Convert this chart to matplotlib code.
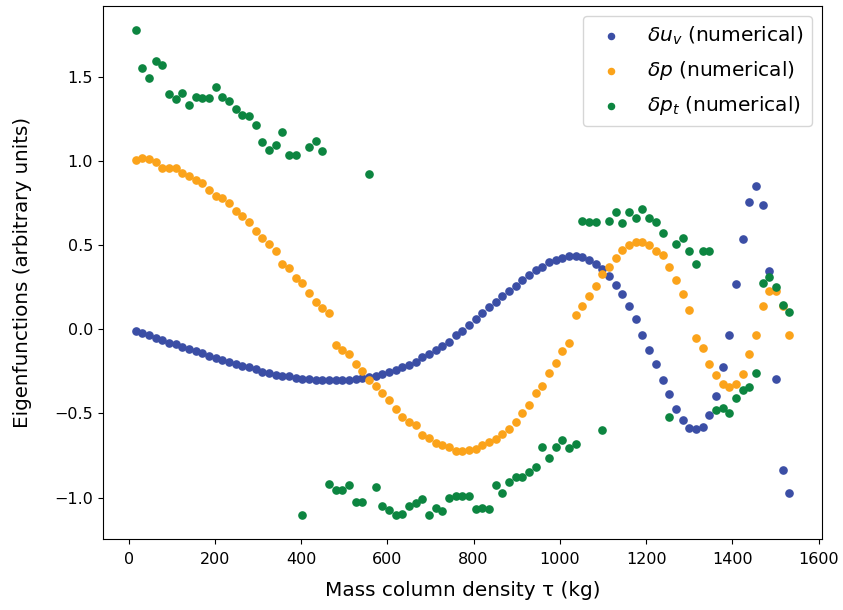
import numpy as np
import matplotlib
matplotlib.use("Agg")
from matplotlib import pyplot as plt

# mass column density grid (kg), 99 evenly spaced samples
tau = np.linspace(16, 1532, 99)

du_v = [-0.010, -0.025, -0.035, -0.052, -0.063, -0.079, -0.088, -0.104, -0.118, -0.132,
        -0.142, -0.158, -0.168, -0.182, -0.193, -0.204, -0.217, -0.227, -0.237, -0.251,
        -0.261, -0.271, -0.277, -0.277, -0.287, -0.295, -0.296, -0.302, -0.302, -0.302,
        -0.302, -0.302, -0.302, -0.296, -0.290, -0.283, -0.277, -0.267, -0.251, -0.243,
        -0.227, -0.211, -0.192, -0.164, -0.148, -0.122, -0.098, -0.073, -0.035, -0.009,
        0.027, 0.064, 0.094, 0.130, 0.165, 0.199, 0.225, 0.259, 0.295, 0.323,
        0.352, 0.372, 0.398, 0.414, 0.424, 0.433, 0.433, 0.427, 0.414, 0.388,
        0.358, 0.318, 0.265, 0.210, 0.140, 0.061, -0.033, -0.122, -0.207, -0.301,
        -0.386, -0.475, -0.540, -0.584, -0.594, -0.578, -0.509, -0.396, -0.223, -0.033,
        0.267, 0.535, 0.759, 0.854, 0.741, 0.344, -0.293, -0.836, -0.971]

dp = [1.009, 1.019, 1.013, 0.993, 0.957, 0.960, 0.960, 0.930, 0.914, 0.888,
      0.870, 0.829, 0.795, 0.779, 0.751, 0.705, 0.671, 0.636, 0.586, 0.543,
      0.507, 0.467, 0.388, 0.362, 0.302, 0.275, 0.215, 0.164, 0.124, 0.094,
      -0.092, -0.122, -0.148, -0.204, -0.247, -0.301, -0.336, -0.380, -0.420, -0.475,
      -0.519, -0.551, -0.570, -0.630, -0.644, -0.674, -0.688, -0.699, -0.723, -0.723,
      -0.717, -0.713, -0.689, -0.670, -0.654, -0.620, -0.594, -0.551, -0.499, -0.449,
      -0.380, -0.336, -0.259, -0.199, -0.128, -0.079, 0.085, 0.136, 0.199, 0.259,
      0.329, 0.372, 0.424, 0.473, 0.503, 0.519, 0.521, 0.501, 0.467, 0.442,
      0.372, 0.295, 0.210, 0.114, -0.049, -0.112, -0.204, -0.273, -0.323, -0.346,
      -0.323, -0.267, -0.144, -0.033, 0.140, 0.225, 0.229, 0.140, -0.033]

dp_t = [1.777, 1.552, 1.491, 1.596, 1.568, 1.398, 1.370, 1.402, 1.336, 1.380,
        1.372, 1.372, 1.439, 1.380, 1.354, 1.311, 1.275, 1.267, 1.215, 1.112,
        1.068, 1.096, 1.171, 1.035, 1.035, -1.104, 1.086, 1.122, 1.061, -0.921,
        -0.957, -0.957, -0.927, -1.025, -1.025, 0.921, -0.938, -1.051, -1.076, -1.104,
        -1.096, -1.051, -1.035, -1.007, -1.104, -1.061, -1.080, -1.001, -0.991, -0.991,
        -0.991, -1.070, -1.061, -1.070, -0.927, -0.975, -0.906, -0.876, -0.876, -0.846,
        -0.817, -0.698, -0.763, -0.698, -0.660, -0.707, -0.680, 0.646, 0.636, 0.636,
        -0.600, 0.646, 0.695, 0.630, 0.695, 0.662, 0.715, 0.662, 0.636, 0.570,
        -0.519, 0.507, 0.543, 0.465, 0.386, 0.465, 0.465, -0.481, -0.465, -0.499,
        -0.406, -0.362, -0.346, -0.259, 0.275, 0.311, 0.249, 0.146, 0.104]

plt.rcParams['font.size'] = 11.5

fig = plt.figure(figsize=(8.43, 6.10), dpi=100)
ax = fig.add_subplot(111)
fig.subplots_adjust(left=0.122, right=0.975, top=0.990, bottom=0.116)

ax.scatter(tau, du_v, s=27, color='#3b4ea5', label=r'$\delta u_v$ (numerical)')
ax.scatter(tau, dp, s=27, color='#fba31a', label=r'$\delta p$ (numerical)')
ax.scatter(tau, dp_t, s=27, color='#0c8540', label=r'$\delta p_t$ (numerical)')

ax.tick_params(axis='x', pad=6)
ax.set_xlabel('Mass column density τ (kg)', fontsize=14.4, labelpad=10)
ax.set_ylabel('Eigenfunctions (arbitrary units)', fontsize=14.3, labelpad=16)
ax.legend(loc='upper right', fontsize=14.5, labelspacing=0.62, markerscale=0.85)

plt.savefig('out.png', dpi=100)
